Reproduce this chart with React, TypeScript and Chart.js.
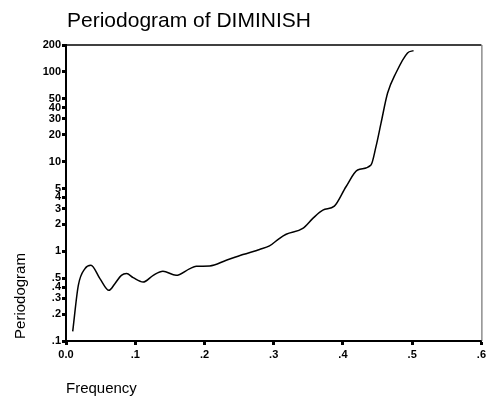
import React, { useEffect, useRef } from "react";
import { Chart, registerables } from "chart.js";

Chart.register(...registerables);

// Data
const frequency = [
  0.0097, 0.0178, 0.0274, 0.036, 0.049, 0.062, 0.0706, 0.08, 0.0874, 0.097,
  0.1114, 0.126, 0.14, 0.159, 0.179, 0.188, 0.2075, 0.2315, 0.2555, 0.2795,
  0.2939, 0.308, 0.318, 0.342, 0.3565, 0.371, 0.3876, 0.4044, 0.4212, 0.4405,
  0.4477, 0.455, 0.4645, 0.4765, 0.4933, 0.502,
];
const periodogram = [
  0.128, 0.418, 0.642, 0.7, 0.496, 0.367, 0.436, 0.54, 0.565, 0.51,
  0.455, 0.54, 0.6, 0.54, 0.642, 0.68, 0.686, 0.795, 0.92, 1.05,
  1.15, 1.39, 1.55, 1.8, 2.33, 2.88, 3.19, 5.25, 8.07, 9.18,
  14.7, 26.9, 58.2, 97.5, 163, 173,
];
const xTickValues = [0, 0.1, 0.2, 0.3, 0.4, 0.5, 0.6];
const xTickLabels = ["0.0", ".1", ".2", ".3", ".4", ".5", ".6"];
const yTickValues = [0.1, 0.2, 0.3, 0.4, 0.5, 1, 2, 3, 4, 5, 10, 20, 30, 40, 50, 100, 200];
const yTickLabels = [".1", ".2", ".3", ".4", ".5", "1", "2", "3", "4", "5", "10", "20", "30", "40", "50", "100", "200"];

const titleText = "Periodogram of DIMINISH";
const xTitleText = "Frequency";
const yTitleText = "Periodogram";

const FONT = "'Liberation Sans', Arial, Helvetica, sans-serif";

const decorPlugin = {
  id: "decor",
  afterDraw(chart: any) {
    const { ctx, chartArea } = chart;
    const { left, right, top, bottom } = chartArea;
    ctx.save();
    // top and right frame lines
    ctx.strokeStyle = "#000";
    ctx.lineWidth = 1.5;
    ctx.beginPath();
    ctx.moveTo(left, top);
    ctx.lineTo(right, top);
    ctx.stroke();
    ctx.strokeStyle = "#555";
    ctx.lineWidth = 1;
    ctx.beginPath();
    ctx.moveTo(right + 0.5, top);
    ctx.lineTo(right + 0.5, bottom);
    ctx.stroke();
    // titles
    ctx.fillStyle = "#000";
    ctx.font = `21px ${FONT}`;
    ctx.textAlign = "left";
    ctx.textBaseline = "alphabetic";
    ctx.fillText(titleText, 67, 27);
    ctx.font = `15px ${FONT}`;
    ctx.textBaseline = "middle";
    ctx.fillText(xTitleText, 66, 389);
    ctx.translate(21, 296);
    ctx.rotate(-Math.PI / 2);
    ctx.textAlign = "center";
    ctx.fillText(yTitleText, 0, 0);
    ctx.restore();
  },
};

export default function App() {
  const ref = useRef<HTMLCanvasElement>(null);
  useEffect(() => {
    if (!ref.current) return;
    const points = frequency.map((f, i) => ({ x: f, y: periodogram[i] }));
    const chart = new Chart(ref.current, {
      type: "line",
      data: {
        datasets: [
          {
            data: points,
            borderColor: "#000",
            borderWidth: 1.5,
            pointRadius: 0,
            cubicInterpolationMode: "monotone",
            fill: false,
          },
        ],
      },
      options: {
        animation: false,
        responsive: false,
        devicePixelRatio: 1,
        layout: { padding: { left: 0, right: 6, top: 45, bottom: 0 } },
        plugins: { legend: { display: false }, tooltip: { enabled: false }, title: { display: false } },
        scales: {
          x: {
            type: "linear",
            min: 0,
            max: 0.6,
            afterBuildTicks: (scale: any) => {
              scale.ticks = xTickValues.map((v) => ({ value: v }));
            },
            afterFit: (scale: any) => {
              scale.height = 60;
            },
            ticks: {
              autoSkip: false,
              maxRotation: 0,
              padding: 3,
              color: "#000",
              font: { family: FONT, size: 11, weight: "bold" },
              callback: (v: any) => {
                const i = xTickValues.findIndex((t) => Math.abs(t - v) < 1e-9);
                return i >= 0 ? xTickLabels[i] : "";
              },
            },
            grid: {
              drawOnChartArea: false,
              drawTicks: true,
              tickLength: 4,
              tickWidth: 3,
              tickColor: "#000",
            },
            border: { display: true, color: "#000", width: 2 },
          },
          y: {
            type: "logarithmic",
            min: 0.1,
            max: 200,
            afterBuildTicks: (scale: any) => {
              scale.ticks = yTickValues.map((v) => ({ value: v, major: false }));
            },
            afterFit: (scale: any) => {
              scale.width = 66;
            },
            ticks: {
              autoSkip: false,
              padding: 1,
              color: "#000",
              font: { family: FONT, size: 11, weight: "bold" },
              callback: (v: any) => {
                const i = yTickValues.findIndex((t) => Math.abs(t - v) / t < 1e-6);
                return i >= 0 ? yTickLabels[i] : "";
              },
            },
            grid: {
              drawOnChartArea: false,
              drawTicks: true,
              tickLength: 4,
              tickWidth: 3,
              tickColor: "#000",
            },
            border: { display: true, color: "#000", width: 2 },
          },
        },
      },
      plugins: [decorPlugin],
    });
    return () => chart.destroy();
  }, []);
  return (
    <div style={{ position: "fixed", left: 0, top: 0, width: 489, height: 401, background: "#fff" }}>
      <canvas ref={ref} width={489} height={401} />
    </div>
  );
}
